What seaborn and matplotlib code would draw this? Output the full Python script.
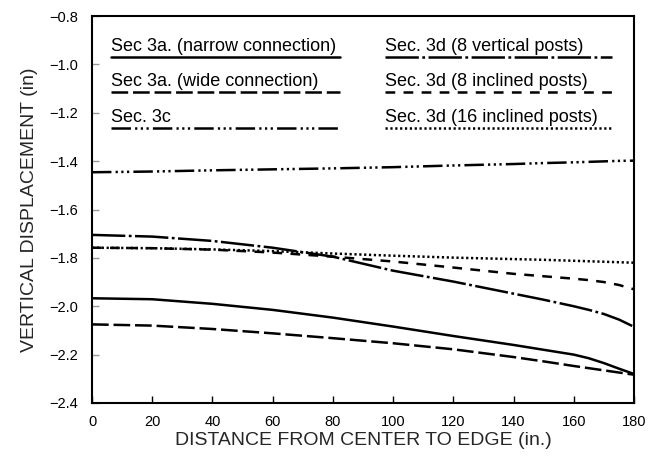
import matplotlib
matplotlib.use("Agg")
import matplotlib.pyplot as plt
import seaborn as sns
import pandas as pd
from matplotlib.lines import Line2D

# ---- data ----
x_pts = [0, 20, 40, 60, 80, 100, 120, 140, 150, 160, 165, 170, 175, 180]

narrow_3a = [-1.967, -1.971, -1.990, -2.015, -2.047, -2.084, -2.123, -2.160, -2.180, -2.200, -2.215, -2.235, -2.258, -2.280]
wide_3a = [-2.075, -2.080, -2.094, -2.112, -2.132, -2.153, -2.178, -2.210, -2.228, -2.247, -2.256, -2.265, -2.274, -2.283]
sec_3c = [-1.446, -1.443, -1.438, -1.434, -1.430, -1.425, -1.418, -1.412, -1.408, -1.405, -1.403, -1.401, -1.399, -1.398]
vert8_3d = [-1.705, -1.712, -1.730, -1.758, -1.795, -1.853, -1.898, -1.948, -1.973, -2.000, -2.015, -2.032, -2.055, -2.085]
incl8_3d = [-1.758, -1.760, -1.766, -1.778, -1.795, -1.815, -1.840, -1.866, -1.876, -1.886, -1.892, -1.900, -1.912, -1.930]
incl16_3d = [-1.758, -1.760, -1.765, -1.772, -1.782, -1.791, -1.799, -1.805, -1.808, -1.812, -1.814, -1.816, -1.818, -1.820]

labels = ["Sec 3a. (narrow connection)", "Sec 3a. (wide connection)", "Sec. 3c",
          "Sec. 3d (8 vertical posts)", "Sec. 3d (8 inclined posts)", "Sec. 3d (16 inclined posts)"]
series = [narrow_3a, wide_3a, sec_3c, vert8_3d, incl8_3d, incl16_3d]

x_ticks = [0, 20, 40, 60, 80, 100, 120, 140, 160, 180]
y_ticks = [-0.8, -1.0, -1.2, -1.4, -1.6, -1.8, -2.0, -2.2, -2.4]

# ---- styles ----
dash_styles = [None, (12, 3.5), (14, 3, 1.6, 2.5, 1.6, 2.5, 1.6, 3), (24, 2.5, 2, 2.5), (7, 6), (1.6, 1.9)]

sns.set_theme(style="ticks")
plt.rcParams['font.family'] = ['Liberation Sans', 'DejaVu Sans']
plt.rcParams['lines.scale_dashes'] = False

fig = plt.figure(figsize=(6.56, 4.57), dpi=100)
ax = fig.add_axes([92/656, 1 - 403/457, 542/656, 387/457])

for vals, lab, ds in zip(series, labels, dash_styles):
    df = pd.DataFrame({"x": x_pts, "y": vals})
    kw = dict(color="black", linewidth=1.8)
    if ds is not None:
        kw["dashes"] = ds
    sns.lineplot(data=df, x="x", y="y", ax=ax, **kw)

ax.set_xlim(0, 180)
ax.set_ylim(-2.4, -0.8)
ax.set_xticks(x_ticks)
ax.set_yticks(y_ticks)
ax.set_xticklabels([str(v) for v in x_ticks])
ax.set_yticklabels([f"{v:.1f}".replace("-", "\u2212") for v in y_ticks])
ax.tick_params(direction="in", length=5, width=1, colors="black", labelsize=10.5)
ax.tick_params(axis="x", pad=9)
ax.tick_params(axis="y", pad=10, colors="#999999", labelcolor="black")
for sp in ax.spines.values():
    sp.set_linewidth(1.5)
    sp.set_color("black")

ax.set_xlabel("DISTANCE FROM CENTER TO EDGE (in.)", fontsize=14, labelpad=2)
ax.set_ylabel("VERTICAL DISPLACEMENT (in)", fontsize=14, labelpad=8)

# ---- custom legend: text with line sample underneath ----
cols = [(0.035, 0.458), (0.541, 0.959)]
rows_text = [0.910, 0.818, 0.726]
rows_line = [0.894, 0.804, 0.711]
for i, (lab, ds) in enumerate(zip(labels, dash_styles)):
    c = i // 3
    r = i % 3
    x0, x1 = cols[c]
    ax.text(x0, rows_text[r], lab, transform=ax.transAxes, fontsize=13,
            ha="left", va="baseline", color="black")
    ln = Line2D([x0, x1], [rows_line[r], rows_line[r]], transform=ax.transAxes,
                color="black", linewidth=1.8)
    if ds is not None:
        ln.set_dashes(ds)
    ax.add_line(ln)

fig.savefig("out.png", dpi=100)
